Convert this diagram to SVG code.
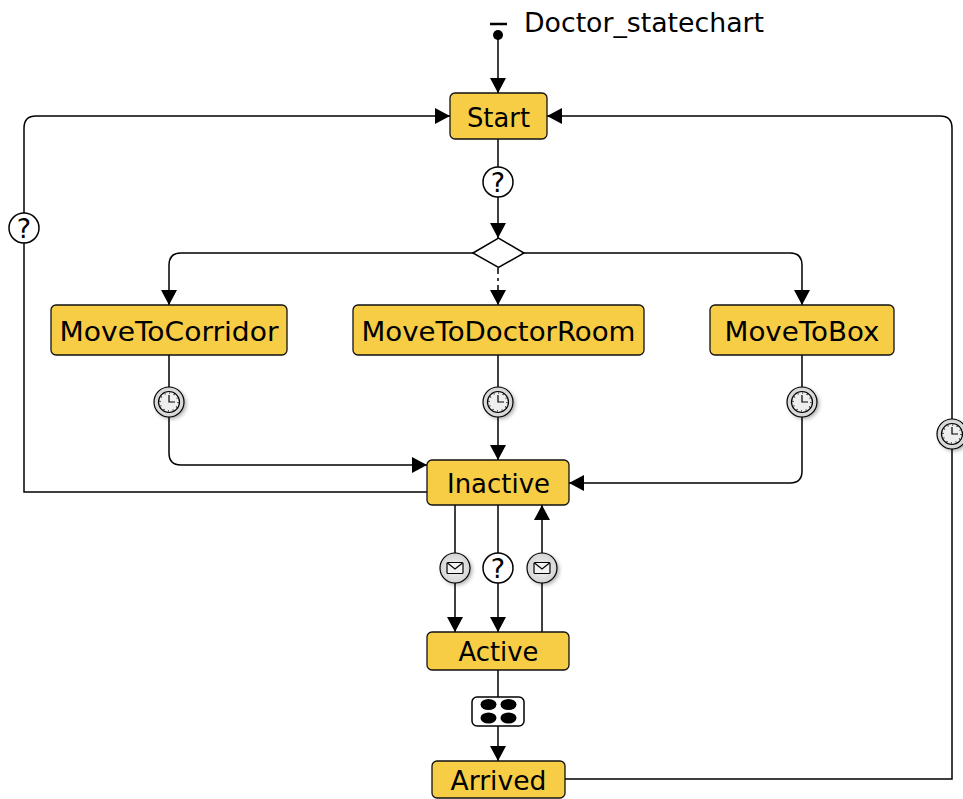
<svg xmlns="http://www.w3.org/2000/svg" width="963" height="799" viewBox="0 0 963 799">
<style>
text{font-family:"DejaVu Sans","Liberation Sans",sans-serif;fill:#000}
.n rect{fill:#f7cd45;stroke:#111;stroke-width:1.3}
.n text{font-size:27px;text-anchor:middle}
.c{fill:none;stroke:#000;stroke-width:1.5}
.b{fill:#fff;stroke:#000;stroke-width:1.5}
.q{font-size:27px;text-anchor:middle}
</style>
<defs>
<marker id="a" markerUnits="userSpaceOnUse" markerWidth="15" markerHeight="16" refX="15" refY="8" orient="auto"><path d="M0 0L15 8L0 16Z" fill="#000"/></marker>
<filter id="s" x="-50%" y="-50%" width="200%" height="200%"><feGaussianBlur stdDeviation="2"/></filter>
<radialGradient id="g"><stop offset="0" stop-color="#f4f4f4"/><stop offset="1" stop-color="#d4d4d4"/></radialGradient>
<g id="clock">
<circle cx="2" cy="2" r="15" fill="#000" opacity=".35" filter="url(#s)"/>
<circle r="15" fill="url(#g)" stroke="#000" stroke-width="1.2"/>
<circle r="10.5" fill="#eee" stroke="#000" stroke-width="1.2"/>
<path d="M0 -7V0H6" fill="none" stroke="#000" stroke-width="1.2"/>
<circle r="9" fill="none" stroke="#000" stroke-width="1.2" stroke-dasharray="1 3.7"/>
</g>
<g id="mail">
<circle cx="2" cy="2" r="15" fill="#000" opacity=".35" filter="url(#s)"/>
<circle r="15" fill="url(#g)" stroke="#000" stroke-width="1.2"/>
<rect x="-8" y="-5.500" width="16" height="11" rx="1" fill="#f2f2f2" stroke="#000" stroke-width="1.2"/>
<path d="M-7.500 -5L0 1L7.500 -5" fill="none" stroke="#000" stroke-width="1.2"/>
</g>
</defs>
<g id="connectors">
<path class="c" d="M498 32V93" marker-end="url(#a)"/>
<path class="c" d="M498 139V238" marker-end="url(#a)"/>
<path class="c" d="M473 253H181Q169 253 169 265V305" marker-end="url(#a)"/>
<path class="c" d="M523 253H790Q802 253 802 265V305" marker-end="url(#a)"/>
<path class="c" d="M498 268V305" stroke-dasharray="6 4 3 4" marker-end="url(#a)"/>
<path class="c" d="M169 355V453Q169 465 181 465H427" marker-end="url(#a)"/>
<path class="c" d="M498 355V460" marker-end="url(#a)"/>
<path class="c" d="M802 355V471Q802 483 790 483H569" marker-end="url(#a)"/>
<path class="c" d="M427 492H24V128Q24 116 36 116H450" marker-end="url(#a)"/>
<path class="c" d="M455 505V632" marker-end="url(#a)"/>
<path class="c" d="M498 505V632" marker-end="url(#a)"/>
<path class="c" d="M542 632V505" marker-end="url(#a)"/>
<path class="c" d="M498 670V761" marker-end="url(#a)"/>
<path class="c" d="M565 779H952V128Q952 116 940 116H547" marker-end="url(#a)"/>
</g>
<g id="initial">
<path d="M490 24H507" stroke="#000" stroke-width="2.500"/>
<circle cx="498" cy="35" r="5" fill="#000"/>
<text x="524" y="32" font-size="26" textLength="240" lengthAdjust="spacingAndGlyphs">Doctor_statechart</text>
</g>
<g id="start" class="n"><rect x="450" y="93" width="97" height="46" rx="5"/><text x="498.500" y="126.500" textLength="63" lengthAdjust="spacingAndGlyphs">Start</text></g>
<g id="decision"><path class="b" d="M473 253L498.500 238L524 253L498.500 267.500Z"/></g>
<g id="moveToCorridor" class="n"><rect x="51" y="305" width="236" height="50" rx="5"/><text x="169" y="341" textLength="219" lengthAdjust="spacingAndGlyphs">MoveToCorridor</text></g>
<g id="moveToDoctorRoom" class="n"><rect x="353" y="305" width="291" height="50" rx="5"/><text x="498.500" y="341" textLength="274" lengthAdjust="spacingAndGlyphs">MoveToDoctorRoom</text></g>
<g id="moveToBox" class="n"><rect x="710" y="305" width="184" height="50" rx="5"/><text x="802" y="341" textLength="155" lengthAdjust="spacingAndGlyphs">MoveToBox</text></g>
<g id="inactive" class="n"><rect x="427" y="460" width="142" height="45" rx="5"/><text x="498.500" y="493" textLength="103" lengthAdjust="spacingAndGlyphs">Inactive</text></g>
<g id="active" class="n"><rect x="427" y="632" width="142" height="38" rx="5"/><text x="498.500" y="661" textLength="80" lengthAdjust="spacingAndGlyphs">Active</text></g>
<g id="arrived" class="n"><rect x="432" y="761" width="133" height="37" rx="5"/><text x="498.500" y="790" textLength="96" lengthAdjust="spacingAndGlyphs">Arrived</text></g>
<g id="guardStart"><circle class="b" cx="498" cy="182" r="15"/><text class="q" x="498" y="192">?</text></g>
<g id="guardLeft"><circle class="b" cx="24" cy="228" r="15"/><text class="q" x="24" y="238">?</text></g>
<g id="guardActive"><circle class="b" cx="498" cy="568" r="15"/><text class="q" x="498" y="578">?</text></g>
<g id="timerCorridor"><use href="#clock" x="169" y="402"/></g>
<g id="timerDoctorRoom"><use href="#clock" x="498" y="402"/></g>
<g id="timerBox"><use href="#clock" x="802" y="402"/></g>
<g id="timerArrived"><use href="#clock" x="952" y="434"/></g>
<g id="mailDown"><use href="#mail" x="455" y="568"/></g>
<g id="mailUp"><use href="#mail" x="542" y="568"/></g>
<g id="split"><rect class="b" x="472" y="697" width="52" height="29" rx="5"/><ellipse cx="488.500" cy="704.500" rx="8" ry="5.500"/><ellipse cx="508.500" cy="704.500" rx="8" ry="5.500"/><ellipse cx="488.500" cy="718" rx="8" ry="5.500"/><ellipse cx="508.500" cy="718" rx="8" ry="5.500"/></g>
</svg>
